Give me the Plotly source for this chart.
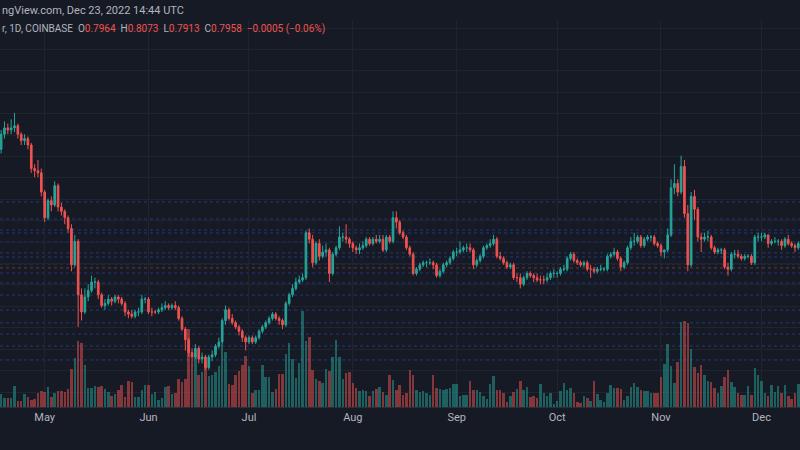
import plotly.graph_objects as go
import pandas as pd

start_date = "2022-04-18"
close = [1.42,1.45,1.44,1.45,1.46,1.42,1.39,1.40,1.37,1.26,
1.25,1.24,1.15,1.03,1.11,1.09,1.18,1.08,1.06,1.03,
0.98,0.81,0.92,0.67,0.59,0.66,0.69,0.73,0.73,0.67,
0.62,0.63,0.65,0.64,0.66,0.65,0.63,0.59,0.58,0.57,
0.59,0.59,0.65,0.65,0.59,0.59,0.59,0.60,0.61,0.62,
0.61,0.62,0.61,0.56,0.51,0.46,0.40,0.38,0.42,0.37,
0.38,0.33,0.38,0.39,0.43,0.45,0.55,0.60,0.56,0.54,
0.52,0.50,0.47,0.45,0.47,0.45,0.47,0.50,0.52,0.54,
0.56,0.58,0.56,0.55,0.53,0.63,0.67,0.70,0.73,0.74,
0.75,0.96,0.93,0.82,0.91,0.85,0.87,0.88,0.77,0.86,
0.89,0.94,0.94,0.93,0.91,0.89,0.88,0.89,0.90,0.93,
0.91,0.93,0.92,0.93,0.88,0.94,0.92,1.03,1.01,0.96,
0.94,0.89,0.86,0.77,0.79,0.81,0.82,0.82,0.82,0.81,
0.76,0.78,0.81,0.82,0.84,0.87,0.87,0.88,0.89,0.89,
0.88,0.81,0.83,0.85,0.89,0.90,0.91,0.93,0.85,0.84,
0.82,0.80,0.81,0.75,0.75,0.72,0.75,0.77,0.76,0.75,
0.74,0.74,0.74,0.75,0.77,0.77,0.77,0.79,0.79,0.84,
0.86,0.83,0.82,0.81,0.82,0.79,0.79,0.78,0.79,0.79,
0.79,0.85,0.86,0.87,0.84,0.80,0.82,0.89,0.92,0.92,
0.94,0.90,0.93,0.94,0.94,0.91,0.90,0.87,0.88,0.95,
1.17,1.19,1.15,1.27,1.05,0.81,1.13,1.07,0.94,0.93,
0.94,0.94,0.89,0.87,0.88,0.88,0.80,0.79,0.86,0.86,
0.85,0.84,0.85,0.85,0.82,0.94,0.94,0.94,0.95,0.91,
0.92,0.92,0.92,0.90,0.93,0.91,0.90,0.89,0.91,0.93]
first_open = 1.35
high = [1.44,1.48,1.47,1.49,1.52,1.47,1.43,1.42,1.41,1.38,
1.28,1.30,1.26,1.16,1.12,1.13,1.20,1.19,1.10,1.07,
1.04,1.00,0.95,0.93,0.70,0.70,0.72,0.76,0.75,0.74,
0.68,0.65,0.67,0.66,0.67,0.67,0.66,0.64,0.60,0.60,
0.60,0.61,0.67,0.66,0.66,0.61,0.60,0.61,0.63,0.64,
0.63,0.63,0.64,0.62,0.57,0.52,0.47,0.42,0.44,0.43,
0.40,0.39,0.39,0.41,0.44,0.47,0.56,0.62,0.61,0.58,
0.55,0.53,0.51,0.48,0.48,0.48,0.48,0.51,0.53,0.55,
0.57,0.59,0.59,0.57,0.56,0.64,0.68,0.72,0.75,0.76,
0.77,0.97,0.98,0.95,0.92,0.93,0.90,0.91,0.89,0.87,
0.90,0.99,0.96,1.00,0.94,0.92,0.90,0.91,0.92,0.94,
0.94,0.94,0.95,0.95,0.95,0.95,0.95,1.06,1.06,1.02,
0.97,0.95,0.90,0.87,0.80,0.82,0.83,0.83,0.84,0.83,
0.82,0.79,0.82,0.83,0.85,0.88,0.89,0.92,0.90,0.91,
0.91,0.89,0.84,0.86,0.90,0.91,0.93,0.95,0.94,0.87,
0.85,0.83,0.82,0.82,0.77,0.77,0.76,0.78,0.78,0.77,
0.77,0.76,0.76,0.77,0.78,0.79,0.78,0.80,0.81,0.85,
0.87,0.87,0.84,0.83,0.83,0.83,0.81,0.80,0.80,0.81,
0.80,0.86,0.87,0.89,0.88,0.85,0.83,0.90,0.94,0.96,
0.95,0.95,0.94,0.95,0.95,0.95,0.92,0.91,0.88,0.98,
1.21,1.28,1.21,1.32,1.30,1.09,1.15,1.16,1.08,0.96,
0.96,0.97,0.95,0.90,0.89,0.89,0.89,0.82,0.87,0.88,
0.88,0.86,0.86,0.86,0.86,0.95,0.96,0.96,0.96,0.95,
0.93,0.94,0.93,0.93,0.94,0.95,0.92,0.91,0.92,0.95]
low = [1.33,1.40,1.42,1.42,1.43,1.40,1.37,1.37,1.35,1.24,
1.22,1.22,1.13,1.01,1.02,1.06,1.08,1.06,1.04,1.00,
0.96,0.78,0.80,0.52,0.55,0.58,0.64,0.68,0.70,0.65,
0.61,0.60,0.62,0.62,0.63,0.63,0.62,0.57,0.56,0.56,
0.56,0.57,0.58,0.63,0.58,0.57,0.58,0.58,0.59,0.60,
0.60,0.60,0.60,0.55,0.50,0.41,0.38,0.34,0.37,0.35,
0.35,0.32,0.32,0.36,0.38,0.42,0.44,0.53,0.55,0.53,
0.51,0.48,0.45,0.41,0.44,0.44,0.44,0.46,0.49,0.51,
0.53,0.55,0.55,0.53,0.51,0.52,0.62,0.66,0.69,0.72,
0.73,0.74,0.91,0.80,0.81,0.83,0.84,0.85,0.73,0.76,
0.85,0.88,0.92,0.91,0.89,0.87,0.86,0.86,0.88,0.89,
0.90,0.90,0.91,0.91,0.87,0.87,0.91,0.91,0.98,0.95,
0.93,0.88,0.85,0.76,0.76,0.78,0.80,0.80,0.81,0.79,
0.75,0.75,0.77,0.80,0.81,0.83,0.85,0.86,0.87,0.87,
0.87,0.79,0.80,0.82,0.84,0.88,0.89,0.90,0.84,0.83,
0.81,0.79,0.79,0.74,0.73,0.70,0.71,0.74,0.75,0.73,
0.73,0.72,0.72,0.73,0.74,0.75,0.75,0.76,0.78,0.78,
0.83,0.82,0.81,0.80,0.80,0.78,0.75,0.77,0.77,0.78,
0.78,0.78,0.84,0.85,0.83,0.78,0.79,0.81,0.88,0.90,
0.91,0.89,0.89,0.92,0.92,0.90,0.89,0.85,0.84,0.87,
0.94,1.14,1.13,1.14,1.03,0.78,0.80,1.02,0.92,0.87,
0.92,0.92,0.88,0.86,0.86,0.86,0.79,0.76,0.78,0.84,
0.84,0.83,0.83,0.84,0.81,0.81,0.92,0.92,0.93,0.89,
0.90,0.91,0.90,0.88,0.89,0.90,0.89,0.87,0.88,0.90]
volume = [13,9,9,9,21,6,6,13,10,7,
8,14,16,15,20,10,14,16,16,15,
18,38,49,66,64,42,19,19,21,20,
21,18,15,11,13,17,22,10,26,25,
10,10,17,22,22,13,15,7,9,20,
21,13,14,28,25,28,78,42,53,32,
35,45,31,32,35,41,63,55,23,22,
32,36,42,51,41,14,17,17,42,30,30,
15,18,33,33,53,64,48,29,44,96,
66,70,37,28,26,24,38,36,50,67,
50,28,34,35,24,19,16,17,16,11,
16,18,20,15,12,32,27,17,22,12,
14,37,32,17,15,16,14,12,32,19,
18,17,18,19,23,23,11,12,12,26,
17,17,15,11,8,23,31,17,17,14,
5,11,15,18,26,17,20,10,11,9,
23,14,11,14,3,6,16,24,17,19,
14,5,4,11,9,6,26,13,7,5,
14,22,19,19,18,7,11,20,24,20,
17,16,16,14,14,14,30,43,63,41,
24,45,85,86,84,58,40,34,42,32,
26,25,19,14,21,30,37,25,20,14,
12,12,21,12,39,32,26,14,11,22,
15,21,14,22,11,8,14,23,15]
level_lines = [1.104,1.024,0.973,0.959,0.917,0.866,0.847,0.814,0.772,0.725,
               0.669,0.599,0.539,0.487,0.431,0.366]
last_price = 0.7958

dates = pd.date_range(start_date, periods=len(close), freq="D")
opens = [first_open] + close[:-1]
UP, DN = "#26a69a", "#ef5350"
vcol = ["rgba(38,166,154,0.5)" if c >= o else "rgba(239,83,80,0.5)" for o, c in zip(opens, close)]

fig = go.Figure()
fig.add_trace(go.Bar(x=dates, y=volume, marker=dict(color=vcol, line=dict(width=0)),
                     width=0.75*86400000, yaxis="y", showlegend=False))
fig.add_trace(go.Candlestick(x=dates, open=opens, high=high, low=low, close=close,
                             increasing=dict(line=dict(color=UP, width=1), fillcolor=UP),
                             decreasing=dict(line=dict(color=DN, width=1), fillcolor=DN),
                             whiskerwidth=0, yaxis="y2", showlegend=False))
shapes = []
for v in level_lines:
    shapes.append(dict(type="line", xref="paper", x0=0, x1=1, yref="y2", y0=v, y1=v,
                       line=dict(color="rgba(50,80,200,0.55)", width=1, dash="dot"), layer="below"))
shapes.append(dict(type="line", xref="paper", x0=0, x1=1, yref="y2", y0=last_price, y1=last_price,
                   line=dict(color="rgba(200,70,70,0.55)", width=1, dash="dot"), layer="below"))
fig.update_layout(
    width=800, height=450, margin=dict(l=0, r=0, t=20, b=43, autoexpand=False),
    paper_bgcolor="#161a25", plot_bgcolor="#161a25",
    font=dict(family="Roboto", color="#b2b5be", size=11),
    bargap=0, shapes=shapes,
    xaxis=dict(range=["2022-04-17 16:00", "2022-12-12 12:00"], rangeslider=dict(visible=False),
               tickformat="%b", dtick="M1", tick0="2022-05-01", showgrid=True, gridcolor="#20242f",
               ticks="", showline=True, linecolor="#2a2e39", zeroline=False),
    yaxis=dict(range=[0, 387], visible=False, showgrid=False),
    yaxis2=dict(range=[0.146, 1.954], overlaying="y", showticklabels=False, showgrid=True,
                gridcolor="#20242f", dtick=0.1, tick0=0.016, zeroline=False),
    annotations=[
        dict(xref="paper", yref="paper", x=0, y=1, yshift=10, xanchor="left", yanchor="middle", showarrow=False,
             text="ngView.com, Dec 23, 2022 14:44 UTC", font=dict(size=11, color="#b2b5be")),
        dict(xref="paper", yref="paper", x=0, y=1, yshift=-9, xanchor="left", yanchor="middle", showarrow=False,
             text="r, 1D, COINBASE  O<span style='color:#ef5350'>0.7964</span>  H<span style='color:#ef5350'>0.8073</span>  L<span style='color:#ef5350'>0.7913</span>  C<span style='color:#ef5350'>0.7958</span>  <span style='color:#ef5350'>−0.0005 (−0.06%)</span>",
             font=dict(size=10, color="#b2b5be")),
    ],
)
fig.write_html("out.html", config={"displayModeBar": False},
               post_script="document.body.style.margin='0';document.body.style.background='#161a25';")
